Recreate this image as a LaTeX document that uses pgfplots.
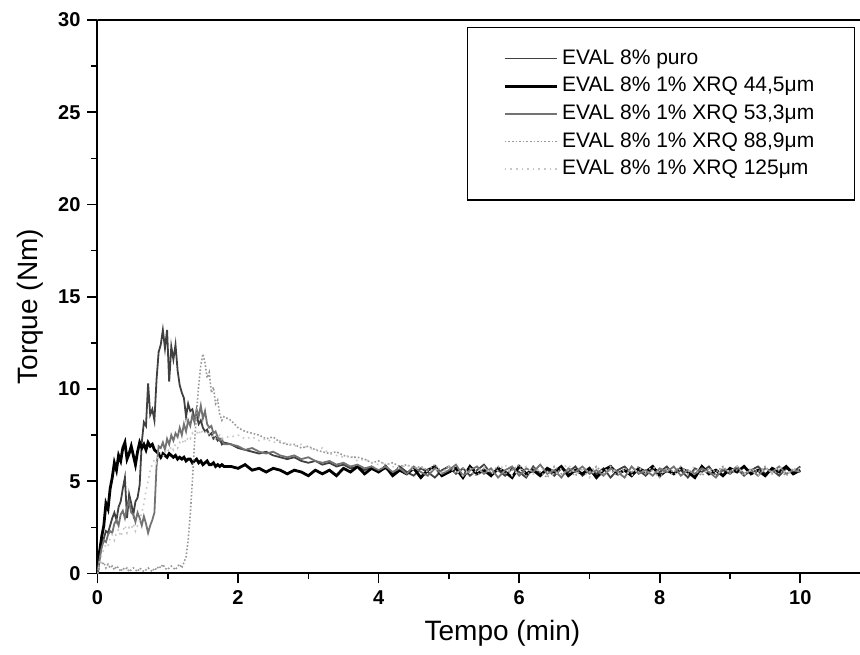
\documentclass[border=0pt]{standalone}
\usepackage{fontspec}
\setmainfont{Liberation Sans}
\usepackage{pgfplots}
\usepackage{pgfplotstable}
\pgfplotsset{compat=1.18}

% torque curves: t (min), then one column per sample
\pgfplotstableread{
t     A    B    C    D    E
0.00 0.0 0.0 0.0 0.0 0.0
0.03 1.2 0.9 0.8 0.7 0.5
0.06 2.0 1.6 1.4 0.5 1.0
0.09 2.6 1.9 1.8 0.6 1.3
0.12 3.8 2.3 1.7 0.3 1.6
0.15 3.5 2.2 2.1 0.5 1.5
0.18 4.6 2.6 2.3 0.3 1.9
0.21 5.2 3.0 2.2 0.4 2.1
0.24 6.0 3.3 2.7 0.2 1.8
0.27 5.6 2.9 2.9 0.4 2.2
0.30 6.4 3.6 2.6 0.3 2.4
0.33 6.1 3.9 3.2 0.1 2.0
0.36 6.8 4.6 3.4 0.3 2.3
0.39 7.1 5.2 3.0 0.2 2.6
0.42 6.2 3.0 3.6 0.3 2.2
0.45 6.5 4.3 3.9 0.1 2.5
0.48 6.9 3.8 3.3 0.2 2.4
0.51 6.4 3.2 3.2 0.3 2.7
0.54 5.9 3.9 2.8 0.2 2.3
0.57 6.6 4.1 3.3 0.1 2.6
0.60 7.1 4.8 3.0 0.3 2.9
0.63 6.8 7.1 2.6 0.2 3.3
0.66 7.0 8.2 3.1 0.1 3.8
0.69 6.7 8.0 2.7 0.2 4.5
0.72 7.1 10.3 2.2 0.3 5.0
0.75 6.9 8.6 2.6 0.2 5.6
0.78 7.0 8.9 2.9 0.1 5.9
0.81 6.7 8.3 3.3 0.3 6.2
0.84 6.6 10.5 5.8 0.2 6.0
0.87 6.5 12.0 6.9 0.4 6.4
0.90 6.3 12.4 6.8 0.3 6.5
0.93 6.5 13.2 7.1 0.5 6.3
0.96 6.4 12.2 6.7 0.3 6.6
0.99 6.3 13.2 7.3 0.2 6.8
1.02 6.5 10.4 7.0 0.3 6.6
1.05 6.4 12.3 7.5 0.4 6.9
1.08 6.3 11.6 7.2 0.3 6.7
1.11 6.4 12.4 7.6 0.2 7.0
1.14 6.2 11.0 7.4 0.4 6.8
1.17 6.3 10.2 7.9 0.5 7.1
1.20 6.2 9.8 7.5 0.3 7.0
1.23 6.3 9.5 8.1 0.6 7.3
1.26 6.1 8.5 7.7 0.9 7.1
1.29 6.2 9.2 8.3 1.8 7.4
1.32 6.2 8.8 8.0 3.2 7.3
1.35 6.0 8.9 8.6 5.0 7.6
1.38 6.1 8.4 8.2 7.0 7.4
1.41 6.2 8.6 8.9 8.8 7.7
1.44 6.0 8.1 8.5 10.2 7.5
1.47 6.1 8.3 9.1 11.3 7.8
1.50 5.9 7.9 8.4 11.9 7.6
1.53 6.0 7.7 8.8 11.4 7.7
1.56 6.1 7.8 8.1 10.6 7.5
1.59 5.9 7.5 7.9 10.9 7.6
1.62 5.9 7.6 8.0 9.8 7.4
1.65 6.0 7.3 7.6 10.1 7.5
1.68 5.8 7.4 7.7 9.2 7.3
1.71 5.9 7.2 7.4 9.4 7.4
1.74 5.8 7.3 7.2 8.6 7.5
1.77 5.9 7.0 7.3 8.3 7.3
1.80 5.8 7.1 7.0 8.5 7.4
1.9  5.8 7.0 7.0 8.3 7.4
2.0  5.7 6.8 6.9 7.9 7.5
2.1  5.9 6.7 6.7 7.7 7.3
2.2  5.6 6.6 6.8 7.6 7.4
2.3  5.7 6.5 6.6 7.5 7.2
2.4  5.5 6.6 6.5 7.3 7.3
2.5  5.7 6.4 6.6 7.4 7.1
2.6  5.6 6.3 6.4 7.1 7.2
2.7  5.4 6.2 6.3 7.0 7.0
2.8  5.6 6.3 6.4 7.0 6.9
2.9  5.5 6.1 6.2 6.8 7.0
3.0  5.3 6.0 6.3 6.9 6.8
3.1  5.6 6.1 6.1 6.7 6.7
3.2  5.4 5.9 6.0 6.6 6.8
3.3  5.6 6.0 6.1 6.5 6.5
3.4  5.3 5.8 5.9 6.6 6.4
3.5  5.7 5.9 6.0 6.4 6.3
3.6  5.5 5.7 5.8 6.3 6.4
3.7  5.8 5.8 5.9 6.3 6.1
3.8  5.4 5.6 5.7 6.2 6.2
3.9  5.7 5.8 5.8 6.0 6.0
4.0  5.5 5.5 5.6 6.1 5.9
4.1  5.8 5.7 5.8 5.9 6.0
4.2  5.3 5.4 5.5 6.0 5.8
4.3  5.6 5.8 5.7 5.8 5.7
4.4  5.4 5.5 5.4 5.9 5.9
4.5  5.7 5.3 5.8 5.7 5.6
4.6  5.2 5.7 5.5 5.8 5.8
4.7  5.6 5.5 5.3 5.6 5.5
4.8  5.8 5.2 5.7 5.9 5.7
4.9  5.3 5.6 5.4 5.5 5.4
5.0  5.5 5.8 5.6 5.8 5.8
5.1  5.7 5.4 5.9 5.4 5.6
5.2  5.2 5.7 5.3 5.7 5.3
5.3  5.8 5.3 5.6 5.5 5.7
5.4  5.4 5.6 5.8 5.3 5.5
5.5  5.6 5.9 5.4 5.7 5.8
5.6  5.3 5.4 5.7 5.5 5.4
5.7  5.7 5.6 5.2 5.8 5.6
5.8  5.5 5.3 5.6 5.4 5.9
5.9  5.2 5.7 5.8 5.6 5.3
6.0  5.8 5.5 5.3 5.9 5.6
6.1  5.4 5.2 5.7 5.3 5.8
6.2  5.6 5.8 5.5 5.7 5.4
6.3  5.3 5.4 5.9 5.5 5.7
6.4  5.7 5.6 5.4 5.2 5.5
6.5  5.5 5.3 5.6 5.8 5.3
6.6  5.8 5.7 5.2 5.4 5.7
6.7  5.3 5.5 5.7 5.6 5.9
6.8  5.6 5.8 5.5 5.3 5.4
6.9  5.4 5.3 5.8 5.7 5.6
7.0  5.7 5.6 5.4 5.5 5.2
7.1  5.2 5.4 5.6 5.8 5.7
7.2  5.6 5.7 5.3 5.4 5.5
7.3  5.8 5.2 5.7 5.6 5.8
7.4  5.4 5.6 5.5 5.3 5.4
7.5  5.6 5.8 5.2 5.7 5.6
7.6  5.3 5.4 5.8 5.5 5.3
7.7  5.7 5.6 5.4 5.8 5.7
7.8  5.5 5.3 5.6 5.4 5.5
7.9  5.8 5.7 5.3 5.6 5.8
8.0  5.3 5.5 5.7 5.2 5.4
8.1  5.6 5.8 5.5 5.7 5.6
8.2  5.4 5.4 5.8 5.5 5.3
8.3  5.7 5.6 5.3 5.8 5.7
8.4  5.5 5.2 5.6 5.4 5.5
8.5  5.2 5.7 5.4 5.6 5.8
8.6  5.8 5.5 5.7 5.3 5.4
8.7  5.4 5.8 5.5 5.7 5.6
8.8  5.6 5.3 5.2 5.5 5.3
8.9  5.3 5.6 5.7 5.8 5.7
9.0  5.7 5.4 5.5 5.4 5.5
9.1  5.5 5.7 5.8 5.6 5.8
9.2  5.8 5.3 5.4 5.3 5.4
9.3  5.4 5.6 5.6 5.7 5.6
9.4  5.6 5.8 5.3 5.5 5.3
9.5  5.3 5.4 5.7 5.8 5.7
9.6  5.7 5.6 5.5 5.4 5.5
9.7  5.5 5.3 5.8 5.6 5.8
9.8  5.8 5.7 5.4 5.3 5.4
9.9  5.4 5.5 5.6 5.7 5.6
10.0 5.6 5.8 5.5 5.5 5.7
}\torque

\begin{document}
\begin{tikzpicture}
\begin{axis}[
  scale only axis, width=381.25pt, height=276.75pt,
  xmin=0, xmax=10.85, ymin=0, ymax=30,
  axis x line*=bottom, axis y line*=left,
  axis line style={line width=1pt, -},
  xtick={0,2,...,10}, ytick={0,5,...,30},
  minor x tick num=1, minor y tick num=1,
  tick align=outside, tick style={line width=0.8pt, black},
  major tick length=5pt, minor tick length=3pt,
  /pgf/number format/assume math mode=true,
  ticklabel style={font=\bfseries\fontsize{10}{12}\selectfont},
  xlabel={Tempo (min)}, ylabel={Torque (Nm)},
  label style={font=\fontsize{14}{16}\selectfont},
  xlabel style={at={(rel axis cs:0.531,0)}, anchor=center, yshift=-30pt},
  ylabel style={at={(rel axis cs:0,0.482)}, anchor=center, yshift=33.75pt},
  legend cell align=left,
  legend image code/.code={\draw[#1] (0pt,0pt) -- (26pt,0pt);},
  legend style={draw=black, line width=0.7pt, at={(0.9934,0.9874)}, anchor=north east,
    inner xsep=18pt, inner ysep=9pt, row sep=1pt,
    font=\fontsize{10.5}{12}\selectfont},
]
  \addplot[black!75, line width=0.9pt] table[x=t, y=B] {\torque};
  \addlegendentry{EVAL 8\% puro}
  \addplot[black, line width=1.4pt] table[x=t, y=A] {\torque};
  \addlegendentry{EVAL 8\% 1\% XRQ 44,5μm}
  \addplot[black!55, line width=0.9pt] table[x=t, y=C] {\torque};
  \addlegendentry{EVAL 8\% 1\% XRQ 53,3μm}
  \addplot[black!40, line width=0.8pt, densely dotted] table[x=t, y=D] {\torque};
  \addlegendentry{EVAL 8\% 1\% XRQ 88,9μm}
  \addplot[black!22, line width=0.8pt, dotted] table[x=t, y=E] {\torque};
  \addlegendentry{EVAL 8\% 1\% XRQ 125μm}
  \draw[line width=1pt] (rel axis cs:0,1) -- (rel axis cs:1,1);
  \coordinate (ll) at (rel axis cs:0,0);
  \coordinate (ur) at (rel axis cs:1,1);
\end{axis}
\pgfresetboundingbox
\path[use as bounding box] ([shift={(-48.75pt,-40.75pt)}]ll) rectangle ([shift={(0pt,10pt)}]ur);
\end{tikzpicture}
\end{document}
